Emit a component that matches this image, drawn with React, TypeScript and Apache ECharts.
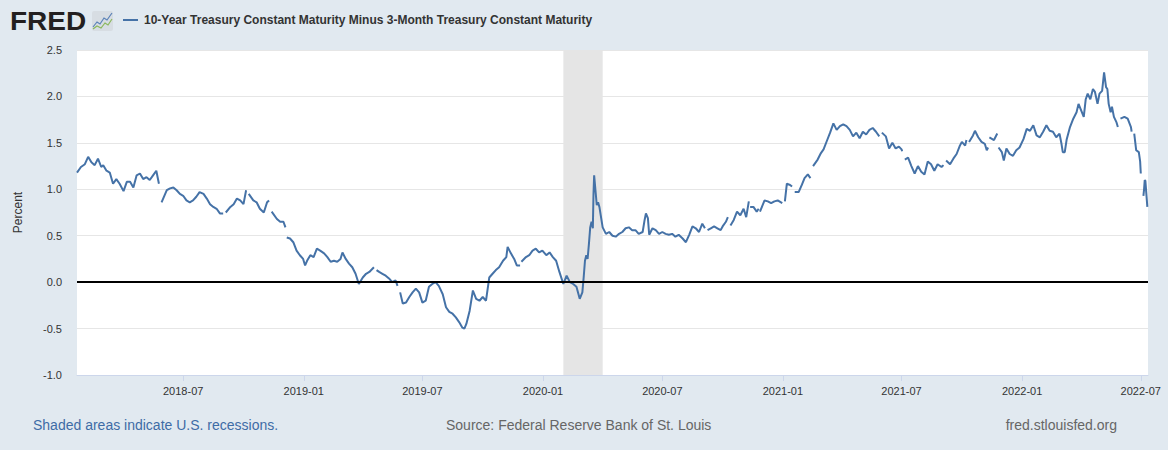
import React, { useEffect, useRef } from 'react';
import * as echarts from 'echarts';

const seriesName = '10-Year Treasury Constant Maturity Minus 3-Month Treasury Constant Maturity';

const dates = [
  '2018-01-20','2018-01-26','2018-02-01','2018-02-06','2018-02-11','2018-02-16','2018-02-21','2018-02-26',
  '2018-03-01','2018-03-06','2018-03-11','2018-03-16','2018-03-21','2018-03-26','2018-04-01','2018-04-06',
  '2018-04-11','2018-04-16','2018-04-21','2018-04-26','2018-05-01','2018-05-06','2018-05-11','2018-05-16',
  '2018-05-21','2018-05-25','2018-05-28','2018-05-29','2018-06-06','2018-06-11','2018-06-16','2018-06-21',
  '2018-06-26','2018-07-01','2018-07-06','2018-07-11','2018-07-16','2018-07-21','2018-07-26','2018-08-01',
  '2018-08-06','2018-08-11','2018-08-16','2018-08-21','2018-08-26','2018-08-31','2018-09-03','2018-09-04',
  '2018-09-11','2018-09-16','2018-09-21','2018-09-26','2018-10-01','2018-10-05','2018-10-08','2018-10-09',
  '2018-10-16','2018-10-21','2018-10-26','2018-11-01','2018-11-06','2018-11-09','2018-11-12','2018-11-13',
  '2018-11-21','2018-11-26','2018-12-01','2018-12-04','2018-12-05','2018-12-06','2018-12-11','2018-12-16',
  '2018-12-21','2018-12-26','2018-12-31','2019-01-03','2019-01-06','2019-01-11','2019-01-16','2019-01-21',
  '2019-01-26','2019-02-01','2019-02-06','2019-02-11','2019-02-16','2019-02-21','2019-02-26','2019-03-01',
  '2019-03-06','2019-03-11','2019-03-16','2019-03-21','2019-03-26','2019-04-01','2019-04-06','2019-04-11',
  '2019-04-18','2019-04-19','2019-04-22','2019-04-26','2019-05-01','2019-05-06','2019-05-11','2019-05-16',
  '2019-05-21','2019-05-24','2019-05-27','2019-05-28','2019-06-01','2019-06-06','2019-06-11','2019-06-16',
  '2019-06-21','2019-06-26','2019-07-01','2019-07-06','2019-07-11','2019-07-16','2019-07-21','2019-07-26',
  '2019-08-01','2019-08-06','2019-08-11','2019-08-16','2019-08-21','2019-08-26','2019-08-31','2019-09-03',
  '2019-09-06','2019-09-11','2019-09-16','2019-09-21','2019-09-26','2019-10-01','2019-10-06','2019-10-11',
  '2019-10-16','2019-10-21','2019-10-26','2019-11-01','2019-11-06','2019-11-08','2019-11-13','2019-11-18',
  '2019-11-22','2019-11-27','2019-11-28','2019-11-29','2019-12-06','2019-12-11','2019-12-16','2019-12-21',
  '2019-12-26','2019-12-31','2020-01-06','2020-01-11','2020-01-16','2020-01-21','2020-01-26','2020-02-01',
  '2020-02-06','2020-02-11','2020-02-16','2020-02-21','2020-02-26','2020-03-01','2020-03-03','2020-03-05',
  '2020-03-07','2020-03-09','2020-03-11','2020-03-13','2020-03-15','2020-03-17','2020-03-18','2020-03-19',
  '2020-03-21','2020-03-23','2020-03-25','2020-03-27','2020-04-01','2020-04-06','2020-04-11','2020-04-16',
  '2020-04-21','2020-04-26','2020-05-01','2020-05-06','2020-05-11','2020-05-16','2020-05-21','2020-05-26',
  '2020-06-01','2020-06-04','2020-06-06','2020-06-09','2020-06-11','2020-06-16','2020-06-21','2020-06-26',
  '2020-07-01','2020-07-06','2020-07-11','2020-07-16','2020-07-21','2020-07-26','2020-08-01','2020-08-06',
  '2020-08-11','2020-08-16','2020-08-21','2020-08-26','2020-08-31','2020-09-04','2020-09-07','2020-09-08',
  '2020-09-13','2020-09-18','2020-09-23','2020-09-28','2020-10-01','2020-10-06','2020-10-09','2020-10-12',
  '2020-10-13','2020-10-18','2020-10-23','2020-10-28','2020-11-02','2020-11-06','2020-11-10','2020-11-11',
  '2020-11-12','2020-11-17','2020-11-22','2020-11-25','2020-11-26','2020-11-27','2020-12-04','2020-12-09',
  '2020-12-14','2020-12-19','2020-12-24','2020-12-31','2021-01-01','2021-01-04','2021-01-07','2021-01-11',
  '2021-01-15','2021-01-18','2021-01-19','2021-01-25','2021-01-30','2021-02-03','2021-02-08','2021-02-12',
  '2021-02-15','2021-02-16','2021-02-23','2021-02-28','2021-03-04','2021-03-09','2021-03-14','2021-03-19',
  '2021-03-24','2021-03-29','2021-04-03','2021-04-08','2021-04-13','2021-04-18','2021-04-23','2021-04-28',
  '2021-05-03','2021-05-08','2021-05-13','2021-05-18','2021-05-23','2021-05-28','2021-05-31','2021-06-01',
  '2021-06-07','2021-06-12','2021-06-17','2021-06-22','2021-06-27','2021-07-01','2021-07-02','2021-07-05',
  '2021-07-06','2021-07-11','2021-07-16','2021-07-21','2021-07-26','2021-07-31','2021-08-05','2021-08-10',
  '2021-08-15','2021-08-20','2021-08-25','2021-08-31','2021-09-03','2021-09-06','2021-09-07','2021-09-13',
  '2021-09-18','2021-09-23','2021-09-28','2021-10-01','2021-10-06','2021-10-08','2021-10-11','2021-10-12',
  '2021-10-18','2021-10-21','2021-10-26','2021-10-31','2021-11-05','2021-11-08','2021-11-10','2021-11-11',
  '2021-11-12','2021-11-19','2021-11-24','2021-11-25','2021-11-26','2021-12-01','2021-12-04','2021-12-08',
  '2021-12-13','2021-12-18','2021-12-23','2021-12-28','2022-01-03','2022-01-08','2022-01-13','2022-01-18',
  '2022-01-23','2022-01-28','2022-02-02','2022-02-07','2022-02-12','2022-02-17','2022-02-22','2022-02-27',
  '2022-03-02','2022-03-04','2022-03-07','2022-03-10','2022-03-15','2022-03-20','2022-03-25','2022-03-28',
  '2022-04-01','2022-04-05','2022-04-08','2022-04-11','2022-04-15','2022-04-19','2022-04-22','2022-04-26',
  '2022-04-29','2022-05-03','2022-05-06','2022-05-09','2022-05-11','2022-05-13','2022-05-16','2022-05-18',
  '2022-05-21','2022-05-25','2022-05-27','2022-05-30','2022-05-31','2022-06-06','2022-06-11','2022-06-16',
  '2022-06-17','2022-06-20','2022-06-21','2022-06-24','2022-06-28','2022-06-30','2022-07-01','2022-07-04',
  '2022-07-05','2022-07-06','2022-07-07','2022-07-08','2022-07-11'
];

const values: (number | null)[] = [
  1.18,1.24,1.27,1.35,1.29,1.26,1.33,1.24,
  1.26,1.20,1.18,1.06,1.11,1.06,0.98,1.08,
  1.08,1.02,1.15,1.17,1.11,1.13,1.10,1.15,
  1.20,1.06,null,0.86,0.99,1.01,1.02,0.99,
  0.95,0.93,0.88,0.86,0.88,0.92,0.97,0.95,
  0.90,0.84,0.81,0.79,0.74,0.74,null,0.75,
  0.81,0.84,0.90,0.88,0.84,0.99,null,0.95,
  0.88,0.86,0.79,0.75,0.86,0.88,null,0.76,
  0.68,0.65,0.65,0.59,null,0.48,0.47,0.43,
  0.34,0.29,0.25,0.18,0.23,0.29,0.27,0.36,
  0.34,0.31,0.27,0.22,0.23,0.22,0.25,0.32,
  0.25,0.20,0.16,0.09,-0.02,0.05,0.09,0.11,
  0.16,null,0.13,0.11,0.09,0.07,0.04,0.00,
  0.02,-0.04,null,-0.11,-0.23,-0.22,-0.16,-0.11,
  -0.07,-0.11,-0.22,-0.20,-0.05,-0.02,0.00,-0.04,
  -0.13,-0.27,-0.32,-0.34,-0.38,-0.43,-0.49,-0.50,
  -0.45,-0.31,-0.09,-0.18,-0.20,-0.16,-0.20,0.05,
  0.09,0.13,0.16,0.23,0.27,0.38,0.31,0.25,
  0.18,0.18,null,0.22,0.27,0.29,0.34,0.36,
  0.32,0.34,0.29,0.32,0.27,0.23,0.11,-0.02,
  0.07,0.00,-0.02,-0.05,-0.18,-0.11,0.05,0.23,
  0.29,0.25,0.41,0.59,0.65,0.58,0.95,1.15,
  0.99,0.83,0.86,0.81,0.59,0.52,0.54,0.50,
  0.49,0.52,0.54,0.58,0.59,0.56,0.56,0.52,
  0.54,0.67,0.74,0.69,0.51,0.58,0.56,0.52,
  0.54,0.52,0.51,0.52,0.49,0.51,0.47,0.43,
  0.51,0.60,0.58,0.54,0.63,0.58,null,0.56,
  0.58,0.60,0.58,0.56,0.60,0.65,0.70,null,
  0.61,0.67,0.76,0.72,0.79,0.70,0.87,null,
  0.81,0.81,0.76,0.79,null,0.76,0.88,0.87,
  0.85,0.87,0.88,0.85,null,0.87,1.06,1.05,
  1.03,null,0.97,0.97,1.05,1.12,1.16,1.12,
  null,1.25,1.32,1.39,1.43,1.52,1.61,1.71,
  1.64,1.68,1.70,1.68,1.64,1.57,1.61,1.55,
  1.62,1.59,1.64,1.66,1.62,1.57,null,1.61,
  1.57,1.44,1.50,1.44,1.46,1.43,1.41,null,
  1.32,1.34,1.25,1.17,1.25,1.19,1.16,1.30,
  1.27,1.20,1.27,1.24,1.26,null,1.31,1.27,
  1.33,1.38,1.47,1.51,1.47,1.53,null,1.51,
  1.58,1.63,1.56,1.51,1.49,1.42,1.45,null,
  1.56,1.53,1.60,null,1.45,1.40,1.31,1.44,
  1.38,1.36,1.42,1.45,1.54,1.65,1.63,1.69,
  1.58,1.56,1.62,1.69,1.63,1.62,1.56,1.60,
  1.49,1.40,1.40,1.54,1.67,1.76,1.83,1.92,
  1.85,1.78,1.97,2.03,1.97,2.08,2.05,1.92,
  2.03,2.06,2.26,2.10,2.08,1.92,1.83,1.89,
  1.78,1.72,1.67,null,1.76,1.78,1.76,1.67,
  1.62,null,1.60,1.42,1.40,1.30,1.17,null,
  0.93,1.00,1.10,1.09,0.81
];

const xTickLabels = ['2018-07','2019-01','2019-07','2020-01','2020-07','2021-01','2021-07','2022-01','2022-07'];
const xRange = ['2018-01-20','2022-07-12'];
const recession = ['2020-02-01','2020-04-01'];
const yMin = -1.0;
const yMax = 2.5;
const yStep = 0.5;

const FONT = '"Liberation Sans", Arial, sans-serif';

function ts(s: string): number {
  const p = s.split('-').map(Number);
  return Date.UTC(p[0], (p[1] || 1) - 1, p[2] || 1);
}

function fmtMonth(v: number): string {
  const d = new Date(v);
  const m = d.getUTCMonth() + 1;
  return d.getUTCFullYear() + '-' + (m < 10 ? '0' + m : '' + m);
}

export default function App() {
  const ref = useRef<HTMLDivElement>(null);
  useEffect(() => {
    document.body.style.margin = '0';
    const chart = echarts.init(ref.current!, null, { renderer: 'svg' });
    const tickTs = xTickLabels.map((l) => ts(l + '-01'));
    const data = dates.map((d, i) => [ts(d), values[i] === null ? '-' : values[i]]);
    chart.setOption({
      animation: false,
      backgroundColor: '#e1e9f0',
      textStyle: { fontFamily: FONT },
      grid: {
        left: 77, right: 20, top: 50, bottom: 75,
        show: true, backgroundColor: '#ffffff', borderWidth: 0,
      },
      xAxis: {
        type: 'value',
        min: ts(xRange[0]),
        max: ts(xRange[1]),
        axisLine: { show: true, onZero: false, lineStyle: { color: '#ccd6eb', width: 1 } },
        axisTick: { show: true, customValues: tickTs, length: 6, lineStyle: { color: '#ccd6eb' } },
        axisLabel: {
          customValues: tickTs,
          color: '#333333',
          fontSize: 11,
          fontFamily: FONT,
          margin: 10,
          formatter: (v: number) => fmtMonth(v),
        },
        splitLine: { show: false },
      },
      yAxis: {
        type: 'value',
        min: yMin,
        max: yMax,
        interval: yStep,
        name: 'Percent',
        nameLocation: 'middle',
        nameGap: 53,
        nameTextStyle: { color: '#333333', fontSize: 12, fontFamily: FONT },
        axisLine: { show: false },
        axisTick: { show: false },
        axisLabel: {
          color: '#333333', fontSize: 11, fontFamily: FONT, margin: 15,
          formatter: (v: number) => v.toFixed(1),
        },
        splitLine: { lineStyle: { color: '#e6e6e6', width: 1 } },
      },
      series: [
        {
          name: seriesName,
          type: 'line',
          data,
          showSymbol: false,
          connectNulls: false,
          lineStyle: { color: '#4572a7', width: 2 },
          itemStyle: { color: '#4572a7' },
          markArea: {
            silent: true,
            itemStyle: { color: '#e5e5e5' },
            data: [[{ xAxis: ts(recession[0]) }, { xAxis: ts(recession[1]) }]],
          },
          markLine: {
            silent: true,
            symbol: 'none',
            label: { show: false },
            lineStyle: { color: '#000000', width: 2, type: 'solid' },
            data: [{ yAxis: 0 }],
          },
          z: 3,
        },
      ],
      graphic: [
        {
          type: 'text', x: 10, y: 9, scaleX: 1.12,
          style: { text: 'FRED', font: 'bold 25px ' + FONT, fill: '#231f20' },
        },
        {
          type: 'rect', shape: { x: 92, y: 11, width: 21, height: 20, r: 2 },
          style: { fill: '#d7dde3' },
        },
        {
          type: 'polyline', shape: { points: [[93, 27], [97, 22], [100, 24], [104, 18], [107, 20], [112, 13]] },
          style: { stroke: '#5b82b8', lineWidth: 1.2, fill: null },
        },
        {
          type: 'polyline', shape: { points: [[93, 29], [97, 26], [101, 28], [105, 23], [108, 25], [112, 19]] },
          style: { stroke: '#8bb85c', lineWidth: 1.2, fill: null },
        },
        {
          type: 'line', shape: { x1: 123, y1: 20, x2: 138, y2: 20 },
          style: { stroke: '#4572a7', lineWidth: 2 },
        },
        {
          type: 'text', x: 144, y: 20,
          style: { text: seriesName, font: 'bold 12px ' + FONT, fill: '#333333', textVerticalAlign: 'middle' },
        },
        {
          type: 'text', x: 33, y: 425,
          style: { text: 'Shaded areas indicate U.S. recessions.', font: '14px ' + FONT, fill: '#3e6ca6', textVerticalAlign: 'middle' },
        },
        {
          type: 'text', x: 446, y: 425,
          style: { text: 'Source: Federal Reserve Bank of St. Louis', font: '14px ' + FONT, fill: '#666666', textVerticalAlign: 'middle' },
        },
        {
          type: 'text', x: 1117, y: 425,
          style: { text: 'fred.stlouisfed.org', font: '14px ' + FONT, fill: '#666666', textAlign: 'right', textVerticalAlign: 'middle' },
        },
      ],
    });
    return () => chart.dispose();
  }, []);
  return <div ref={ref} style={{ width: 1168, height: 450 }} />;
}
